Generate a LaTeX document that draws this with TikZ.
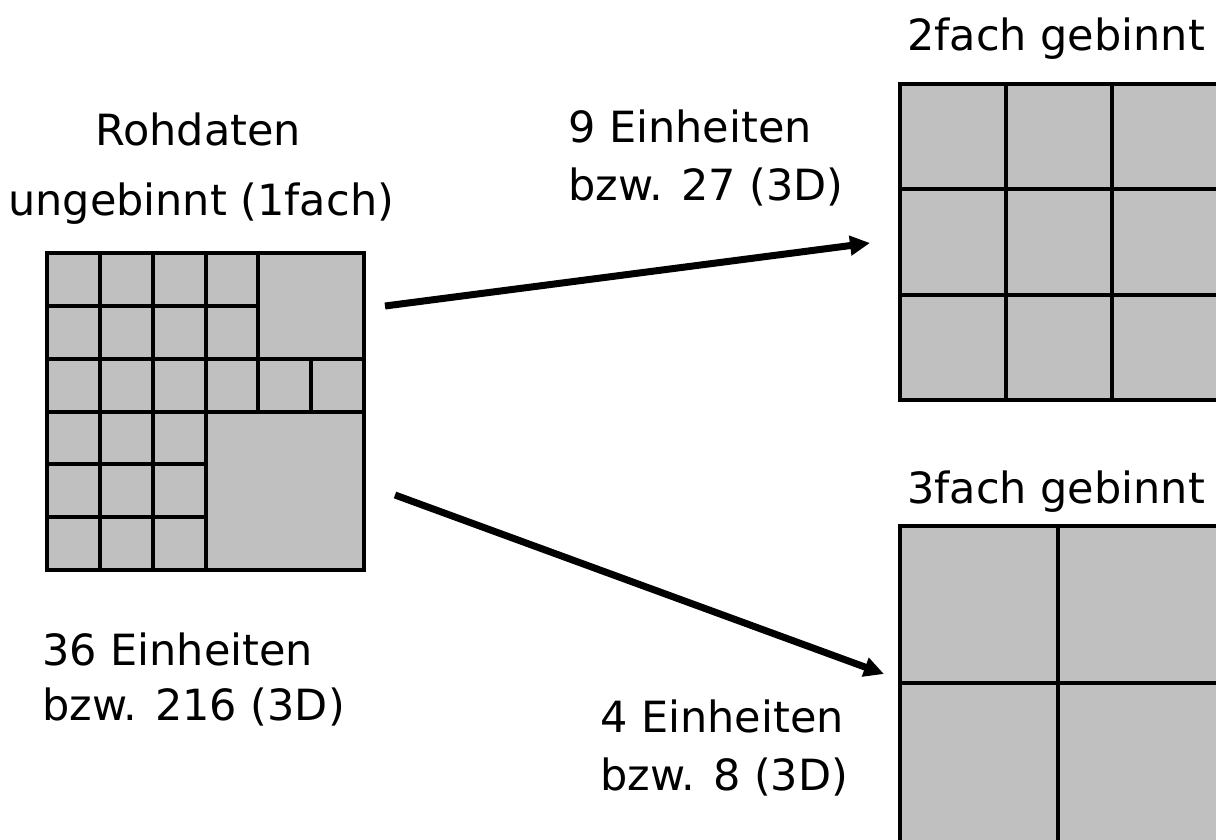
\documentclass[tikz,border=0pt]{standalone}
\usepackage{fontspec}
\setmainfont{DejaVu Sans}
\usetikzlibrary{arrows.meta}
\definecolor{cellgray}{HTML}{C0C0C0}
\begin{document}
\begin{tikzpicture}[x=1pt,y=-1pt,
  gridbox/.style={draw=black, fill=cellgray, line width=4.5pt, inner sep=0pt, outer sep=0pt, anchor=north west},
  gridline/.style={draw=black, line width=4pt},
  txt/.style={font=\fontsize{43}{50}\selectfont, inner sep=0pt, anchor=base west},
  arr/.style={draw=black, line width=7pt, -{Triangle[length=20pt,width=19pt]}}]
\useasboundingbox (0,0) rectangle (1216,839);
\clip (0,0) rectangle (1216,839);
\fill[white] (0,0) rectangle (1216,839);

% raw grid (6x6 units)
\def\s{52.833}
\node[gridbox, minimum width=317pt, minimum height=317pt] (raw) at (47,253) {};
\begin{scope}[shift={(47,253)}]
  \draw[gridline] (0,\s) -- (4*\s,\s);
  \draw[gridline] (0,2*\s) -- (6*\s,2*\s);
  \draw[gridline] (0,3*\s) -- (6*\s,3*\s);
  \draw[gridline] (0,4*\s) -- (3*\s,4*\s);
  \draw[gridline] (0,5*\s) -- (3*\s,5*\s);
  \draw[gridline] (\s,0) -- (\s,6*\s);
  \draw[gridline] (2*\s,0) -- (2*\s,6*\s);
  \draw[gridline] (3*\s,0) -- (3*\s,6*\s);
  \draw[gridline] (4*\s,0) -- (4*\s,3*\s);
  \draw[gridline] (5*\s,2*\s) -- (5*\s,3*\s);
\end{scope}

% 2fach grid
\node[gridbox, minimum width=320pt, minimum height=316pt] (bin2) at (900,84) {};
\draw[gridline] (1006,84) -- (1006,400);
\draw[gridline] (1111.5,84) -- (1111.5,400);
\draw[gridline] (900,188.5) -- (1220,188.5);
\draw[gridline] (900,294.5) -- (1220,294.5);

% 3fach grid
\node[gridbox, minimum width=322pt, minimum height=322pt] (bin3) at (900,526) {};
\draw[gridline] (1058,526) -- (1058,848);
\draw[gridline] (900,683) -- (1222,683);

% texts
\node[txt] (rohA) at (95,145) {Rohdaten};
\node[txt] (rohB) at (8,215) {ungebinnt (1fach)};
\node[txt] (t2A) at (907,50) {2fach gebinnt};
\node[txt] (t3A) at (907,503) {3fach gebinnt};
\node[txt] (e9A) at (568,142) {9 Einheiten};
\node[txt] (e9B) at (568,200) {bzw. 27 (3D)};
\node[txt] (e36A) at (42,665) {36 Einheiten};
\node[txt] (e36B) at (42,720) {bzw. 216 (3D)};
\node[txt] (e4A) at (600,732) {4 Einheiten};
\node[txt] (e4B) at (600,790) {bzw. 8 (3D)};

% arrows
\coordinate (a1s) at (385,306);
\coordinate (a1e) at (870,243);
\coordinate (a2s) at (395,495);
\coordinate (a2e) at (884,674);
\draw[arr] (a1s) -- (a1e);
\draw[arr] (a2s) -- (a2e);
\end{tikzpicture}
\end{document}
